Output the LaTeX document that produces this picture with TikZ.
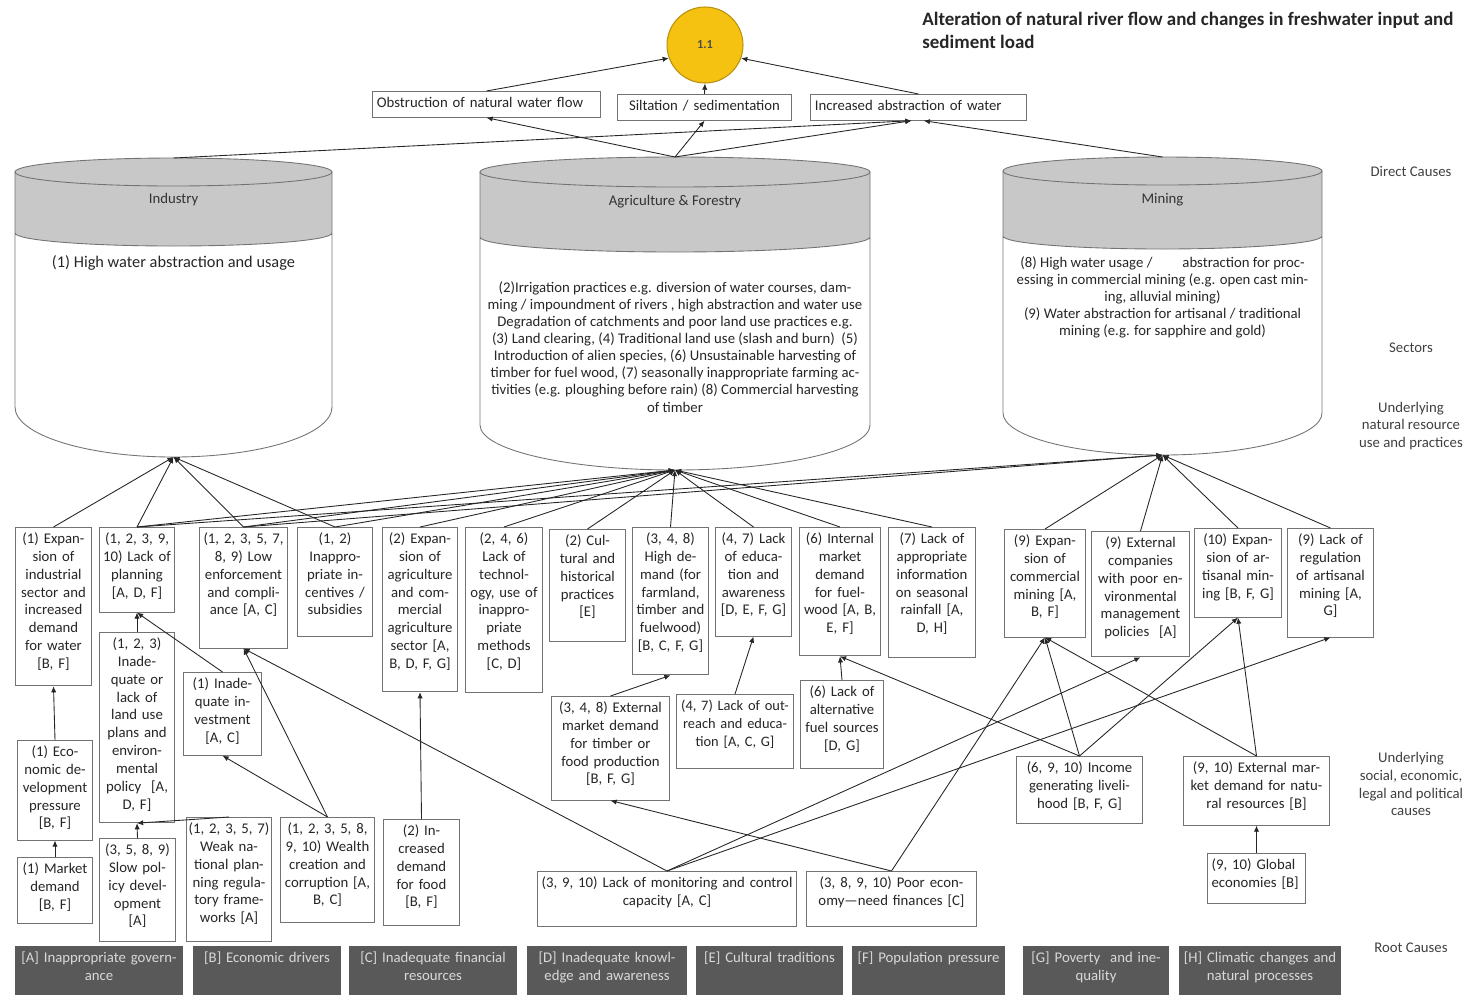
\documentclass[tikz,border=0pt]{standalone}
\usepackage{fontspec}
\setmainfont{Carlito}
\usetikzlibrary{arrows.meta}

\definecolor{drumgray}{HTML}{C8C8C8}
\definecolor{rootgray}{HTML}{595959}
\definecolor{issuegold}{HTML}{F5C211}

\newcommand{\boxfont}{\fontsize{8.4}{10.2}\selectfont}
\newcommand{\drumfont}{\fontsize{8.4}{9.7}\selectfont}

\tikzset{
    cause/.style={draw=black!55, fill=white, line width=0.5pt, anchor=north, align=center,
        inner xsep=1pt, inner ysep=3pt, text height=6pt, font=\boxfont, text=black!85},
    root/.style={fill=rootgray, anchor=north, align=center, inner xsep=1pt, inner ysep=3pt,
        text height=6pt, text depth=15.8pt, font=\boxfont, text=black!15},
    tier/.style={align=center, font=\boxfont, text=black!75},
    link/.style={-{Latex[length=3.5pt, width=3pt]}, line width=0.5pt, black!85},
    drum/.style={draw=black!55, line width=0.5pt},
}

\begin{document}
\begin{tikzpicture}[x=0.02cm, y=-0.02cm]
    \useasboundingbox (0,0) rectangle (1470,995);

    % Title
    \node[anchor=north west, align=left, inner sep=0pt, text=black!85,
        font=\fontsize{10.8}{12.8}\selectfont\bfseries] (title) at (922,12)
        {Alteration of natural river flow and changes in freshwater input and\\sediment load};

    % Focal issue
    \node[circle, fill=issuegold, draw=issuegold!75!black, line width=0.6pt, minimum size=1.52cm,
        inner sep=0pt, font=\fontsize{7}{8}\selectfont\bfseries, text=black!70] (issue) at (705,45) {1.1};

    % Direct causes
    \node[cause, align=left, inner xsep=2.5pt, text width=124.8pt, text depth=2.7pt] (flow) at (486.5,91)
        {Obstruction of natural water flow};
    \node[cause, text width=97.2pt, text depth=2.7pt] (silt) at (704.5,94)
        {Siltation / sedimentation};
    \node[cause, align=left, inner xsep=2.5pt, text width=118pt, text depth=2.7pt] (abstr) at (918.5,94)
        {Increased abstraction of water};

    \draw[link] (flow.north) -- (issue.200);
    \draw[link] (silt.north) -- (issue.south);
    \draw[link] (abstr.north) -- (issue.340);

    % Industry
    \fill[drumgray] (15,172) -- (15,233) arc[start angle=180, end angle=0, x radius=158.5, y radius=13] -- (332,172) -- cycle;
    \draw[drum] (15,172) -- (15,407) arc[start angle=180, end angle=0, x radius=158.5, y radius=50] -- (332,172)
        (15,233) arc[start angle=180, end angle=0, x radius=158.5, y radius=13];
    \filldraw[drum, fill=drumgray] (173.5,172) ellipse[x radius=158.5, y radius=14];
    \coordinate (ind-top) at (173.5,158);
    \coordinate (ind-bot) at (173.5,457);
    \node[font=\boxfont, text=black!80] (industry) at (173.5,200) {Industry};
    \node[font=\fontsize{9.3}{10}\selectfont, text=black!85] (ind-use) at (173.5,263) {(1) High water abstraction and usage};

    % Agriculture & Forestry
    \fill[drumgray] (480,172) -- (480,237) arc[start angle=180, end angle=0, x radius=195, y radius=15] -- (870,172) -- cycle;
    \draw[drum] (480,172) -- (480,425) arc[start angle=180, end angle=0, x radius=195, y radius=45] -- (870,172)
        (480,237) arc[start angle=180, end angle=0, x radius=195, y radius=15];
    \filldraw[drum, fill=drumgray] (675,172) ellipse[x radius=195, y radius=15];
    \coordinate (agri-top) at (675,157);
    \coordinate (agri-bot) at (675,470);
    \node[font=\boxfont, text=black!80] (agriculture) at (675,202) {Agriculture \& Forestry};
    \node[align=center, font=\drumfont, text=black!85] (agri-use) at (675,347) {%
        (2)Irrigation practices e.g. diversion of water courses, dam-\\
        ming / impoundment of rivers , high abstraction and water use\\
        Degradation of catchments and poor land use practices e.g.\\
        (3) Land clearing, (4) Traditional land use (slash and burn)~ (5)\\
        Introduction of alien species, (6) Unsustainable harvesting of\\
        timber for fuel wood, (7) seasonally inappropriate farming ac-\\
        tivities (e.g. ploughing before rain) (8) Commercial harvesting\\
        of timber};

    % Mining
    \fill[drumgray] (1003,171) -- (1003,236) arc[start angle=180, end angle=0, x radius=159.5, y radius=13] -- (1322,171) -- cycle;
    \draw[drum] (1003,171) -- (1003,413) arc[start angle=180, end angle=0, x radius=159.5, y radius=42] -- (1322,171)
        (1003,236) arc[start angle=180, end angle=0, x radius=159.5, y radius=13];
    \filldraw[drum, fill=drumgray] (1162.5,171) ellipse[x radius=159.5, y radius=14];
    \coordinate (min-top) at (1162.5,157);
    \coordinate (min-bot) at (1162.5,455);
    \node[font=\boxfont, text=black!80] (mining) at (1162.5,200) {Mining};
    \node[align=center, font=\drumfont, text=black!85] (min-use) at (1162.5,297) {%
        (8) High water usage /\hspace{0.6cm}abstraction for proc-\\
        essing in commercial mining (e.g. open cast min-\\
        ing, alluvial mining)\\
        (9) Water abstraction for artisanal / traditional\\
        mining (e.g. for sapphire and gold)};

    \draw[link] (ind-top) -- ([xshift=-4pt]abstr.south);
    \draw[link] (agri-top) -- (flow.south);
    \draw[link] (agri-top) -- (silt.south);
    \draw[link] (agri-top) -- ([xshift=-4pt]abstr.south);
    \draw[link] (min-top) -- ([xshift=3pt]abstr.south);

    % Tier labels
    \node[tier] (l-direct) at (1411,171) {Direct Causes};
    \node[tier] (l-sector) at (1411,348) {Sectors};
    \node[tier] (l-natural) at (1411,426) {Underlying\\natural resource\\use and practices};
    \node[tier] (l-social) at (1411,784) {Underlying\\social, economic,\\legal and political\\causes};
    \node[tier] (l-root) at (1411,948) {Root Causes};

    % Underlying natural resource use and practices
    \node[cause, text width=41.7pt, text depth=78.1pt] (indgrow) at (53.5,527)
        {(1) Expan-\\sion of\\industrial\\sector and\\increased\\demand\\for water\\{[B, F]}};
    \node[cause, text width=41.1pt, text depth=36.2pt] (planning) at (137,527)
        {(1, 2, 3, 9,\\10) Lack of\\planning\\{[A, D, F]}};
    \node[cause, text width=48.5pt, text depth=56.6pt] (enforce) at (243.5,527)
        {(1, 2, 3, 5, 7,\\8, 9) Low\\enforcement\\and compli-\\ance [A, C]};
    \node[cause, text width=41.1pt, text depth=49.8pt] (incent) at (335,527)
        {(1, 2)\\Inappro-\\priate in-\\centives /\\subsidies};
    \node[cause, text width=41.1pt, text depth=81.5pt] (agrigrow) at (420,527)
        {(2) Expan-\\sion of\\agriculture\\and com-\\mercial\\agriculture\\sector [A,\\B, D, F, G]};
    \node[cause, text width=42.2pt, text depth=82.1pt] (techno) at (504,527)
        {(2, 4, 6)\\Lack of\\technol-\\ogy, use of\\inappro-\\priate\\methods\\{[C, D]}};
    \node[cause, text width=41.6pt, text depth=51.5pt] (culture) at (587.5,529)
        {(2) Cul-\\tural and\\historical\\practices\\{[E]}};
    \node[cause, text width=41.6pt, text depth=71.9pt] (demand) at (670.5,527)
        {(3, 4, 8)\\High de-\\mand (for\\farmland,\\timber and\\fuelwood)\\{[B, C, F, G]}};
    \node[cause, text width=41.6pt, text depth=49.8pt] (educ) at (753.5,527)
        {(4, 7) Lack\\of educa-\\tion and\\awareness\\{[D, E, F, G]}};
    \node[cause, text width=44.5pt, text depth=61.1pt] (fuelmkt) at (840,527)
        {(6) Internal\\market\\demand\\for fuel-\\wood [A, B,\\E, F]};
    \node[cause, text width=47.9pt, text depth=61.7pt] (rainfall) at (932,527)
        {(7) Lack of\\appropriate\\information\\on seasonal\\rainfall [A,\\D, H]};
    \node[cause, text width=44.5pt, text depth=49.2pt] (commine) at (1045,529)
        {(9) Expan-\\sion of\\commercial\\mining [A,\\B, F]};
    \node[cause, text width=54.1pt, text depth=59.4pt] (extcomp) at (1140.5,531)
        {(9) External\\companies\\with poor en-\\vironmental\\management\\policies~ [A]};
    \node[cause, text width=47.9pt, text depth=38.5pt] (artmine) at (1238,528)
        {(10) Expan-\\sion of ar-\\tisanal min-\\ing [B, F, G]};
    \node[cause, text width=47.3pt, text depth=49.8pt] (artreg) at (1330.5,528)
        {(9) Lack of\\regulation\\of artisanal\\mining [A,\\G]};

    \draw[link] (indgrow.north) -- (ind-bot);
    \draw[link] (planning.north) -- (ind-bot);
    \draw[link] (enforce.north) -- (ind-bot);
    \draw[link] (incent.north) -- (ind-bot);
    \draw[link] (planning.north) -- (agri-bot);
    \draw[link] (enforce.north) -- (agri-bot);
    \draw[link] (incent.north) -- (agri-bot);
    \draw[link] (agrigrow.north) -- (agri-bot);
    \draw[link] (techno.north) -- (agri-bot);
    \draw[link] (culture.north) -- (agri-bot);
    \draw[link] (demand.north) -- (agri-bot);
    \draw[link] (educ.north) -- (agri-bot);
    \draw[link] (fuelmkt.north) -- (agri-bot);
    \draw[link] (rainfall.north) -- (agri-bot);
    \draw[link] (planning.north) -- (min-bot);
    \draw[link] (enforce.north) -- (min-bot);
    \draw[link] (commine.north) -- (min-bot);
    \draw[link] (extcomp.north) -- (min-bot);
    \draw[link] (artmine.north) -- (min-bot);
    \draw[link] (artreg.north) -- (min-bot);

    % Underlying social, economic, legal and political causes
    \node[cause, text width=41.1pt, text depth=44.7pt] (econdev) at (55,740)
        {(1) Eco-\\nomic de-\\velopment\\pressure\\{[B, F]}};
    \node[cause, text width=41.1pt, text depth=25.4pt] (market) at (55,857)
        {(1) Market\\demand\\{[B, F]}};
    \node[cause, text width=41.1pt, text depth=96.3pt] (landuse) at (137,632)
        {(1, 2, 3)\\Inade-\\quate or\\lack of\\land use\\plans and\\environ-\\mental\\policy~ [A,\\D, F]};
    \node[cause, text width=42.8pt, text depth=35.1pt] (invest) at (222.5,672)
        {(1) Inade-\\quate in-\\vestment\\{[A, C]}};
    \node[cause, text width=41.7pt, text depth=46.4pt] (slowpol) at (137.5,838)
        {(3, 5, 8, 9)\\Slow pol-\\icy devel-\\opment\\{[A]}};
    \node[cause, text width=46.8pt, text depth=58.3pt] (weakplan) at (229,817)
        {(1, 2, 3, 5, 7)\\Weak na-\\tional plan-\\ning regula-\\tory frame-\\works [A]};
    \node[cause, text width=51.9pt, text depth=47.5pt] (wealth) at (327.5,817)
        {(1, 2, 3, 5, 8,\\9, 10) Wealth\\creation and\\corruption [A,\\B, C]};
    \node[cause, text width=41.7pt, text depth=48.1pt] (food) at (421.5,819)
        {(2) In-\\creased\\demand\\for food\\{[B, F]}};
    \node[cause, text width=65.5pt, text depth=47pt] (extmkt) at (610.5,696)
        {(3, 4, 8) External\\market demand\\for timber or\\food production\\{[B, F, G]}};
    \node[cause, inner xsep=0.2pt, text width=66pt, text depth=30pt, font=\fontsize{8.2}{10.2}\selectfont] (outreach) at (735,694)
        {(4, 7) Lack of out-\\reach and educa-\\tion [A, C, G]};
    \node[cause, text width=45.6pt, text depth=37.9pt] (altfuel) at (842,680)
        {(6) Lack of\\alternative\\fuel sources\\{[D, G]}};
    \node[cause, text width=70pt, text depth=26pt] (income) at (1079.5,756)
        {(6, 9, 10) Income\\generating liveli-\\hood [B, F, G]};
    \node[cause, text width=81.3pt, text depth=27.1pt] (natres) at (1256.5,756)
        {(9, 10) External mar-\\ket demand for natu-\\ral resources [B]};
    \node[cause, align=left, inner xsep=2.5pt, text width=51.1pt, text depth=16.3pt] (global) at (1256.5,853)
        {(9, 10) Global\\economies [B]};
    \node[cause, text width=145.4pt, text depth=19.2pt] (monitor) at (667,871)
        {(3, 9, 10) Lack of monitoring and control\\capacity [A, C]};
    \node[cause, text width=94.9pt, text depth=19.2pt] (poorecon) at (891.5,871)
        {(3, 8, 9, 10) Poor econ-\\omy---need finances [C]};

    \draw[link] (econdev.north) -- (indgrow.south);
    \draw[link] (market.north) -- (econdev.south);
    \draw[link] (landuse.north) -- (planning.south);
    \draw[link] (invest.north) -- (planning.south);
    \draw[link] (slowpol.north) -- (landuse.south);
    \draw[link] (weakplan.north) -- (landuse.south);
    \draw[link] (wealth.north) -- (invest.south);
    \draw[link] (wealth.north) -- (enforce.south);
    \draw[link] (food.north) -- (agrigrow.south);
    \draw[link] (extmkt.north) -- (demand.south);
    \draw[link] (outreach.north) -- (educ.south);
    \draw[link] (altfuel.north) -- (fuelmkt.south);
    \draw[link] (income.north) -- (fuelmkt.south);
    \draw[link] (income.north) -- (commine.south);
    \draw[link] (income.north) -- (artmine.south);
    \draw[link] (natres.north) -- (commine.south);
    \draw[link] (natres.north) -- (artmine.south);
    \draw[link] (global.north) -- (natres.south);
    \draw[link] (monitor.north) -- (enforce.south);
    \draw[link] (monitor.north) -- (extcomp.south);
    \draw[link] (monitor.north) -- (artreg.south);
    \draw[link] (poorecon.north) -- (extmkt.south);
    \draw[link] (poorecon.north) -- (commine.south);

    % Root causes
    \node[root, text width=93.2pt] (rootA) at (99,946) {[A] Inappropriate govern-\\ance};
    \node[root, text width=81.9pt] (rootB) at (267,946) {[B] Economic drivers};
    \node[root, text width=93.2pt] (rootC) at (433,946) {[C] Inadequate financial\\resources};
    \node[root, text width=88.7pt] (rootD) at (607,946) {[D] Inadequate knowl-\\edge and awareness};
    \node[root, text width=81.3pt] (rootE) at (769.5,946) {[E] Cultural traditions};
    \node[root, text width=84.7pt] (rootF) at (928.5,946) {[F] Population pressure};
    \node[root, text width=80.8pt] (rootG) at (1096,946) {[G] Poverty~ and ine-\\quality};
    \node[root, text width=89.8pt] (rootH) at (1260,946) {[H] Climatic changes and\\natural processes};
\end{tikzpicture}
\end{document}
